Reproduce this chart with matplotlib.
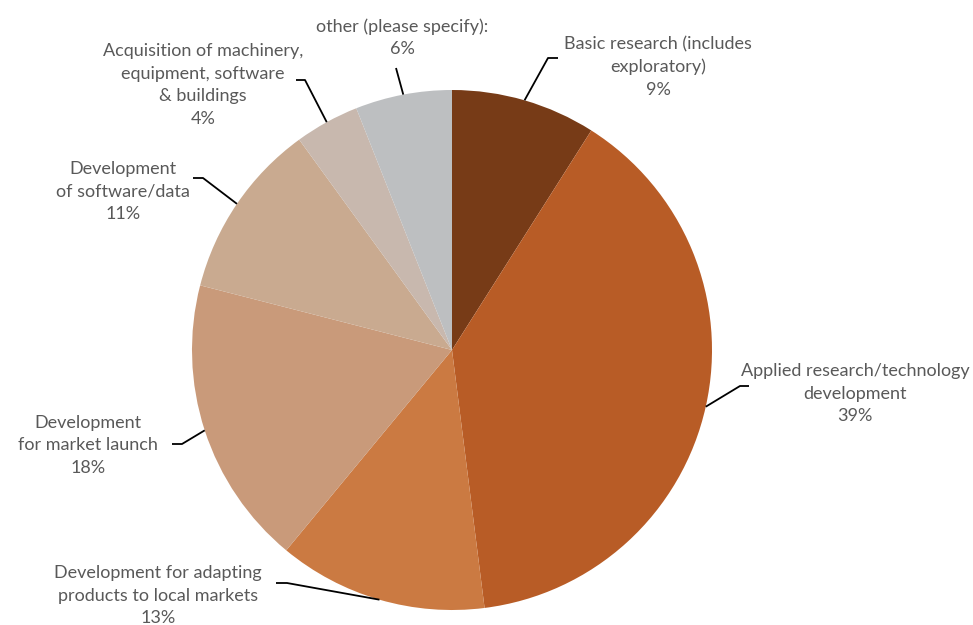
import matplotlib
matplotlib.use("Agg")
import matplotlib.pyplot as plt
import numpy as np

W, H = 973, 625

labels = ["Basic research (includes\nexploratory)",
          "Applied research/technology\ndevelopment",
          "Development for adapting\nproducts to local markets",
          "Development\nfor market launch",
          "Development\nof software/data",
          "Acquisition of machinery,\nequipment, software\n& buildings",
          "other (please specify):"]
shares = [9, 39, 13, 18, 11, 4, 6]
colors = ["#773b17", "#b85c26", "#cb7a42", "#c99a7a", "#c9aa90", "#c8b8ae", "#bdbfc1"]

# label layout in pixel coords (x centre, y of first line centre), elbow, end of leader
text_pos = [(658, 43), (855, 370), (158, 572), (88, 422), (123, 168), (203, 50), (402, 25)]
elbows = [[(548, 58), (558, 58)],
          [(740, 386), (749, 386)],
          [(287, 583), (276, 583)],
          [(182, 444), (172, 444)],
          [(203, 178), (193, 178)],
          [(305, 80), (296, 80)],
          [(396, 68)]]

plt.rcParams['font.family'] = ['Lato', 'DejaVu Sans']
fig = plt.figure(figsize=(W / 100, H / 100), dpi=100)
ax = fig.add_axes([0, 0, 1, 1])

cx, cy, r = 452, H - 350, 260
wedges, _ = ax.pie(shares, colors=colors, startangle=90, counterclock=False,
                   center=(cx, cy), radius=r, frame=True,
                   wedgeprops=dict(linewidth=0))
ax.set_xlim(0, W)
ax.set_ylim(0, H)
ax.set_aspect('equal')
ax.axis('off')

for w, lab, s, (tx, ty), elb in zip(wedges, labels, shares, text_pos, elbows):
    ang = np.deg2rad((w.theta1 + w.theta2) / 2)
    px, py = cx + r * np.cos(ang), cy + r * np.sin(ang)
    xs = [px] + [e[0] for e in elb]
    ys = [py] + [H - e[1] for e in elb]
    ax.plot(xs, ys, color="black", lw=1.3, solid_capstyle='butt')
    ax.text(tx, H - ty + 7, f"{lab}\n{s}%", ha="center", va="top", fontsize=13,
            color="#595959", linespacing=1.5)

fig.savefig("out.png", dpi=100)
